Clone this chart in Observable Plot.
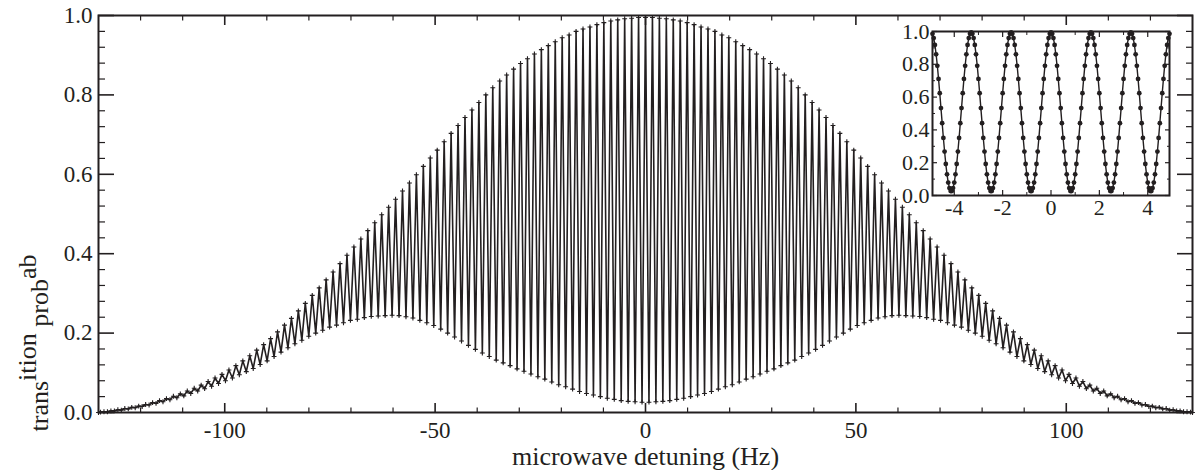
<!DOCTYPE html>
<html>
<head>
<meta charset="utf-8">
<script src="https://cdn.jsdelivr.net/npm/d3@7"></script>
<script src="https://cdn.jsdelivr.net/npm/@observablehq/plot@0.6"></script>
<style>
  html, body { margin: 0; padding: 0; background: #fff; font-family: "Liberation Serif", serif; }
  #chart { position: relative; width: 1198px; height: 470px; }
  #inset { position: absolute; left: 892px; top: 17px; }
</style>
</head>
<body>
<div id="chart"><div id="main"></div><div id="inset"></div></div>
<script>
// Ramsey scan: fringe maxima and minima on the positive-detuning side (Hz, probability).
// The scan is symmetric about resonance, so the negative side mirrors these.
const peakHz = [0,1.65,3.3,4.95,6.6,8.25,9.9,11.55,13.2,14.85,16.5,18.15,19.8,21.45,23.1,24.75,26.4,28.05,29.7,31.35,33,34.65,36.3,37.95,39.6,41.25,42.9,44.55,46.2,47.85,49.5,51.15,52.8,54.45,56.1,57.75,59.4,61.05,62.7,64.35,66,67.65,69.3,70.95,72.6,74.25,75.9,77.55,79.2,80.85,82.5,84.15,85.8,87.45,89.1,90.75,92.4,94.05,95.7,97.35,99,100.65,102.3,103.95,105.6,107.25,108.9,110.55,112.2,113.85,115.5,117.15,118.8,120.45,122.1,123.75,125.4,127.05,128.7];
const peakProb = [0.995,0.995,0.993,0.992,0.989,0.986,0.982,0.977,0.971,0.966,
  0.960,0.951,0.944,0.934,0.924,0.914,0.903,0.891,0.879,0.865,
  0.850,0.835,0.818,0.800,0.781,0.762,0.743,0.723,0.703,0.682,
  0.661,0.641,0.620,0.599,0.578,0.558,0.537,0.517,0.498,0.478,
  0.458,0.437,0.417,0.396,0.375,0.354,0.334,0.314,0.295,0.275,
  0.256,0.237,0.220,0.203,0.186,0.171,0.157,0.143,0.130,0.118,
  0.107,0.096,0.087,0.078,0.069,0.061,0.054,0.047,0.041,0.035,
  0.030,0.025,0.020,0.016,0.013,0.010,0.007,0.004,0.002];
const troughHz = [0.825,2.475,4.125,5.775,7.425,9.075,10.725,12.375,14.025,15.675,17.325,18.975,20.625,22.275,23.925,25.575,27.225,28.875,30.525,32.175,33.825,35.475,37.125,38.775,40.425,42.075,43.725,45.375,47.025,48.675,50.325,51.975,53.625,55.275,56.925,58.575,60.225,61.875,63.525,65.175,66.825,68.475,70.125,71.775,73.425,75.075,76.725,78.375,80.025,81.675,83.325,84.975,86.625,88.275,89.925,91.575,93.225,94.875,96.525,98.175,99.825,101.475,103.125,104.775,106.425,108.075,109.725,111.375,113.025,114.675,116.325,117.975,119.625,121.275,122.925,124.575,126.225,127.875,129.525];
const troughProb = [0.026,0.027,0.028,0.030,0.033,0.036,0.040,0.044,0.048,0.053,
  0.059,0.065,0.070,0.077,0.084,0.090,0.097,0.104,0.110,0.118,
  0.125,0.132,0.141,0.150,0.159,0.169,0.180,0.190,0.200,0.210,
  0.219,0.226,0.232,0.238,0.241,0.244,0.245,0.244,0.243,0.242,
  0.239,0.235,0.232,0.226,0.220,0.215,0.207,0.200,0.192,0.182,
  0.173,0.163,0.152,0.141,0.130,0.121,0.111,0.103,0.095,0.087,
  0.080,0.073,0.066,0.060,0.054,0.048,0.042,0.037,0.032,0.027,
  0.023,0.019,0.015,0.012,0.009,0.006,0.004,0.002,0.001];
// scan end points
const edgeHz = [-130, 130];
const edgeProb = [0, 0];

// Close-up scan around resonance
const zoomHz = [-4.9,-4.85,-4.8,-4.75,-4.7,-4.65,-4.6,-4.55,-4.5,-4.45,
  -4.4,-4.35,-4.3,-4.25,-4.2,-4.15,-4.1,-4.05,-4,-3.95,
  -3.9,-3.85,-3.8,-3.75,-3.7,-3.65,-3.6,-3.55,-3.5,-3.45,
  -3.4,-3.35,-3.3,-3.25,-3.2,-3.15,-3.1,-3.05,-3,-2.95,
  -2.9,-2.85,-2.8,-2.75,-2.7,-2.65,-2.6,-2.55,-2.5,-2.45,
  -2.4,-2.35,-2.3,-2.25,-2.2,-2.15,-2.1,-2.05,-2,-1.95,
  -1.9,-1.85,-1.8,-1.75,-1.7,-1.65,-1.6,-1.55,-1.5,-1.45,
  -1.4,-1.35,-1.3,-1.25,-1.2,-1.15,-1.1,-1.05,-1,-0.95,
  -0.9,-0.85,-0.8,-0.75,-0.7,-0.65,-0.6,-0.55,-0.5,-0.45,
  -0.4,-0.35,-0.3,-0.25,-0.2,-0.15,-0.1,-0.05,0,
  0.05,0.1,0.15,0.2,0.25,0.3,0.35,0.4,0.45,0.5,
  0.55,0.6,0.65,0.7,0.75,0.8,0.85,0.9,0.95,1,
  1.05,1.1,1.15,1.2,1.25,1.3,1.35,1.4,1.45,1.5,
  1.55,1.6,1.65,1.7,1.75,1.8,1.85,1.9,1.95,2,
  2.05,2.1,2.15,2.2,2.25,2.3,2.35,2.4,2.45,2.5,
  2.55,2.6,2.65,2.7,2.75,2.8,2.85,2.9,2.95,3,
  3.05,3.1,3.15,3.2,3.25,3.3,3.35,3.4,3.45,3.5,
  3.55,3.6,3.65,3.7,3.75,3.8,3.85,3.9,3.95,4,
  4.05,4.1,4.15,4.2,4.25,4.3,4.35,4.4,4.45,4.5,
  4.55,4.6,4.65,4.7,4.75,4.8,4.85,4.9];
const zoomProb = [
  0.986,0.960,0.918,0.861,0.791,0.711,0.624,0.533,0.441,0.351,0.268,0.192,0.129,0.079,0.045,0.027,0.027,0.045,0.079,0.129,0.192,0.268,0.351,0.441,0.533,0.624,0.711,0.791,0.861,0.918,0.960,0.986,
  0.995,0.986,0.960,0.918,0.861,0.791,0.711,0.624,0.533,0.441,0.351,0.268,0.192,0.129,0.079,0.045,0.027,0.027,0.045,0.079,0.129,0.192,0.268,0.351,0.441,0.533,0.624,0.711,0.791,0.861,0.918,0.960,0.986,
  0.995,0.986,0.960,0.918,0.861,0.791,0.711,0.624,0.533,0.441,0.351,0.268,0.192,0.129,0.079,0.045,0.027,0.027,0.045,0.079,0.129,0.192,0.268,0.351,0.441,0.533,0.624,0.711,0.791,0.861,0.918,0.960,0.986,
  0.995,0.986,0.960,0.918,0.861,0.791,0.711,0.624,0.533,0.441,0.351,0.268,0.192,0.129,0.079,0.045,0.027,0.027,0.045,0.079,0.129,0.192,0.268,0.351,0.441,0.533,0.624,0.711,0.791,0.861,0.918,0.960,0.986,
  0.995,0.986,0.960,0.918,0.861,0.791,0.711,0.624,0.533,0.441,0.351,0.268,0.192,0.129,0.079,0.045,0.027,0.027,0.045,0.079,0.129,0.192,0.268,0.351,0.441,0.533,0.624,0.711,0.791,0.861,0.918,0.960,0.986,
  0.995,0.986,0.960,0.918,0.861,0.791,0.711,0.624,0.533,0.441,0.351,0.268,0.192,0.129,0.079,0.045,0.027,0.027,0.045,0.079,0.129,0.192,0.268,0.351,0.441,0.533,0.624,0.711,0.791,0.861,0.918,0.960,0.986];

// Axis ticks
const xMajor = [-100, -50, 0, 50, 100];
const xMinor = [-120,-110,-90,-80,-70,-60,-40,-30,-20,-10,10,20,30,40,60,70,80,90,110,120];
const yMajor = [0, 0.2, 0.4, 0.6, 0.8, 1.0];
const yMinor = [0.04,0.08,0.12,0.16,0.24,0.28,0.32,0.36,0.44,0.48,0.52,0.56,0.64,0.68,0.72,0.76,0.84,0.88,0.92,0.96];
const zxMajor = [-4, -2, 0, 2, 4];
const zxMinor = [-3, -1, 1, 3];
const zyMajor = [0, 0.2, 0.4, 0.6, 0.8, 1.0];
const zyMinor = [0.1, 0.3, 0.5, 0.7, 0.9];

const xTitle = "microwave detuning (Hz)";
const yTitleParts = ["trans", "ition", " prob", "ab"];

const ink = "#231f20";
const face = "Liberation Serif";
const fmt1 = d => d.toFixed(1);
const fmtInt = d => String(d);

// Build the fringe trace: maxima and minima on both sides, ordered by detuning
const extrema = [];
peakHz.forEach((hz, i) => {
  extrema.push({hz, p: peakProb[i]});
  if (hz > 0) extrema.push({hz: -hz, p: peakProb[i]});
});
troughHz.forEach((hz, i) => {
  extrema.push({hz, p: troughProb[i]});
  extrema.push({hz: -hz, p: troughProb[i]});
});
const trace = extrema.concat(edgeHz.map((hz, i) => ({hz, p: edgeProb[i]})))
  .sort((a, b) => a.hz - b.hz);
const zoomScan = zoomHz.map((hz, i) => ({hz, p: zoomProb[i]}));

// Inward tick marks on a given side
function ticksX(values, anchor, size, sw) {
  return Plot.axisX(values, {anchor, tickSize: -size, fill: "none", stroke: ink, strokeWidth: sw, label: null});
}
function ticksY(values, anchor, size, sw) {
  return Plot.axisY(values, {anchor, tickSize: -size, fill: "none", stroke: ink, strokeWidth: sw, label: null});
}

const main = Plot.plot({
  width: 1198, height: 470,
  marginTop: 15, marginRight: 6, marginBottom: 58, marginLeft: 98,
  style: {fontFamily: face, fontSize: "23px", color: ink, background: "transparent"},
  x: {domain: [-130, 130], label: null},
  y: {domain: [0, 1], label: null},
  marks: [
    Plot.line(trace, {x: "hz", y: "p", stroke: ink, strokeWidth: 1.6}),
    Plot.dot(trace, {x: "hz", y: "p", symbol: "plus", r: 1.7, stroke: ink, strokeWidth: 1.1}),
    ticksX(xMajor, "bottom", 9, 1.6), ticksX(xMinor, "bottom", 4.5, 1.2),
    ticksX(xMajor, "top", 9, 1.6), ticksX(xMinor, "top", 4.5, 1.2),
    ticksY(yMajor, "left", 16, 1.6), ticksY(yMinor, "left", 7, 1.2),
    ticksY(yMajor, "right", 16, 1.6), ticksY(yMinor, "right", 7, 1.2),
    Plot.axisX(xMajor, {anchor: "bottom", tickSize: 0, tickPadding: 9, tickFormat: fmtInt, fill: ink, fontFamily: face, fontSize: 23, label: null}),
    Plot.axisY(yMajor, {anchor: "left", tickSize: 0, tickPadding: 6, tickFormat: fmt1, fill: ink, fontFamily: face, fontSize: 23, label: null}),
    Plot.text([xTitle], {frameAnchor: "bottom", dy: 52, lineAnchor: "bottom", fontFamily: face, fontSize: 26, fill: ink}),
    Plot.frame({stroke: ink, strokeWidth: 2})
  ]
});

// Rotated y-axis title with raised fragments
const yLabel = d3.select(main).append("text")
  .attr("transform", "translate(48,343) rotate(-90)")
  .attr("font-family", face).attr("font-size", 26).attr("fill", ink);
yLabel.append("tspan").text(yTitleParts[0]);
yLabel.append("tspan").attr("dy", "-0.45em").text(yTitleParts[1]);
yLabel.append("tspan").attr("dy", "0.45em").text(yTitleParts[2]);
yLabel.append("tspan").attr("dy", "-0.45em").text(yTitleParts[3]);
document.getElementById("main").append(main);

const inset = Plot.plot({
  width: 287, height: 208,
  marginTop: 14, marginRight: 10, marginBottom: 30, marginLeft: 40,
  style: {fontFamily: face, fontSize: "22px", color: ink, background: "transparent", overflow: "visible"},
  x: {domain: [-4.9, 4.9], label: null},
  y: {domain: [0, 1], label: null},
  marks: [
    Plot.frame({fill: "white"}),
    Plot.line(zoomScan, {x: "hz", y: "p", stroke: ink, strokeWidth: 1.4}),
    Plot.dot(zoomScan, {x: "hz", y: "p", r: 2.4, fill: ink}),
    ticksX(zxMajor, "bottom", 5, 1.2), ticksX(zxMinor, "bottom", 3, 1),
    ticksX(zxMajor, "top", 5, 1.2), ticksX(zxMinor, "top", 3, 1),
    ticksY(zyMajor, "left", 5, 1.2), ticksY(zyMinor, "left", 3, 1),
    ticksY(zyMajor, "right", 5, 1.2), ticksY(zyMinor, "right", 3, 1),
    Plot.axisX(zxMajor, {anchor: "bottom", tickSize: 0, tickPadding: 4, tickFormat: fmtInt, fill: ink, fontFamily: face, fontSize: 22, label: null}),
    Plot.axisY(zyMajor, {anchor: "left", tickSize: 0, tickPadding: 3, tickFormat: fmt1, fill: ink, fontFamily: face, fontSize: 22, label: null}),
    Plot.frame({stroke: ink, strokeWidth: 2})
  ]
});
document.getElementById("inset").append(inset);
</script>
</body>
</html>
